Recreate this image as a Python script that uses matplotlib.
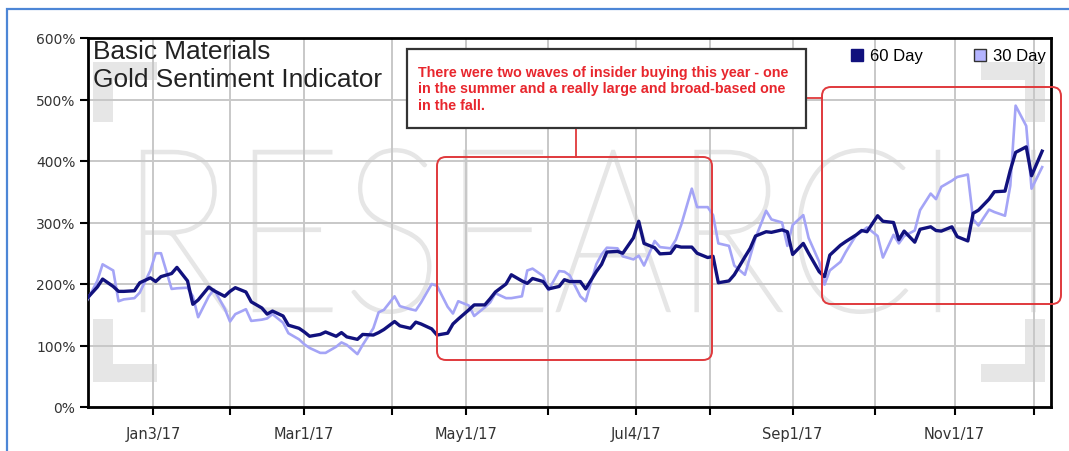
import matplotlib.pyplot as plt
import matplotlib.dates as mdates
import pandas as pd
from matplotlib.font_manager import FontProperties
from matplotlib.lines import Line2D
from matplotlib.patches import FancyBboxPatch, PathPatch, Rectangle
from matplotlib.textpath import TextPath
from matplotlib.ticker import FuncFormatter
from matplotlib.transforms import Affine2D

# Sentiment readings (%), one every second trading day from 9 Dec 2016
day60 = [176, 195, 208, 196, 188, 188, 189, 202, 210, 204,
         212, 217, 227, 205, 167, 174, 195, 189, 180, 188,
         194, 187, 171, 161, 151, 156, 148, 133, 128, 122,
         115, 118, 122, 115, 121, 114, 110, 118, 117, 121,
         126, 139, 132, 128, 138, 135, 127, 117, 120, 135,
         143, 158, 166, 166, 176, 187, 200, 215, 205, 201,
         209, 204, 192, 196, 207, 204, 204, 192, 220, 232,
         252, 253, 250, 275, 302, 266, 259, 249, 250, 262,
         260, 260, 250, 243, 245, 202, 205, 215, 244, 258,
         278, 285, 284, 288, 285, 248, 266, 250, 220, 212,
         247, 263, 269, 280, 287, 285, 311, 302, 300, 272,
         286, 268, 289, 293, 287, 286, 293, 277, 270, 315,
         320, 338, 350, 351, 385, 414, 423, 376, 416]

day30 = [172, 205, 232, 222, 172, 175, 177, 186, 222, 250,
         250, 192, 193, 194, 180, 146, 180, 191, 160, 139,
         151, 159, 140, 142, 144, 151, 137, 120, 110, 102,
         96, 88, 88, 98, 105, 101, 86, 101, 128, 154,
         158, 180, 164, 159, 157, 170, 200, 197, 163, 152,
         172, 165, 148, 162, 170, 185, 177, 177, 180, 222,
         225, 213, 190, 221, 220, 214, 180, 172, 232, 248,
         259, 258, 245, 240, 246, 230, 270, 260, 258, 272,
         296, 355, 325, 325, 312, 266, 262, 230, 215, 245,
         275, 319, 305, 300, 262, 296, 312, 275, 236, 199,
         222, 236, 252, 280, 285, 292, 278, 243, 280, 266,
         278, 287, 320, 347, 338, 358, 368, 374, 378, 305,
         295, 321, 317, 311, 360, 490, 457, 355, 390]

major_dates = ['2017-01-03', '2017-03-01', '2017-05-01',
               '2017-07-04', '2017-09-01', '2017-11-01']
major_labels = ['Jan3/17', 'Mar1/17', 'May1/17', 'Jul4/17', 'Sep1/17', 'Nov1/17']
minor_dates = ['2017-02-01', '2017-04-03', '2017-06-01',
               '2017-08-01', '2017-10-02', '2017-12-01']

title = "Basic Materials\nGold Sentiment Indicator"
note = ("There were two waves of insider buying this year - one\n"
        "in the summer and a really large and broad-based one\n"
        "in the fall.")

dates = pd.bdate_range('2016-12-09', periods=len(day60), freq='2B')

NAVY = '#11117d'
LILAC = '#a4a4f6'
RED = '#e0393c'

W, H = 1069, 452
fig = plt.figure(figsize=(W / 100, H / 100), dpi=100)
fig.patch.set_facecolor('white')
ax = fig.add_axes([88 / W, 1 - 408 / H, (1051 - 88) / W, (408 - 39) / H])
# pixel coordinates on the figure, origin bottom-left
px = Affine2D().scale(1 / W, 1 / H) + fig.transFigure

# light watermark behind the data
fp = FontProperties(family='Lato', weight='light')
wm = TextPath((0, 0), 'RESEARCH', size=1, prop=fp)
bb = wm.get_extents()
x0, x1, y0, y1 = 0.056, 0.983, 0.255, 0.699
wm_tr = (Affine2D().translate(-bb.x0, -bb.y0)
         .scale((x1 - x0) / bb.width, (y1 - y0) / bb.height)
         .translate(x0, y0) + ax.transAxes)
ax.add_patch(PathPatch(wm, transform=wm_tr, fc='#e6e6e6', ec='#e6e6e6',
                       lw=1.6, zorder=0.3))

# corner brackets
for (bx, by, bw, bh) in [(0.005, 0.068, 0.021, 0.170), (0.005, 0.068, 0.067, 0.049),
                         (0.973, 0.068, 0.021, 0.170), (0.927, 0.068, 0.067, 0.049),
                         (0.005, 0.772, 0.021, 0.163), (0.005, 0.886, 0.067, 0.049),
                         (0.973, 0.772, 0.021, 0.163), (0.927, 0.886, 0.067, 0.049)]:
    ax.add_patch(Rectangle((bx, by), bw, bh, transform=ax.transAxes,
                           fc='#e6e6e6', ec='none', zorder=0.3))

ax.plot(dates, day30, color=LILAC, lw=1.9, zorder=3)
ax.plot(dates, day60, color=NAVY, lw=2.4, zorder=4)

ax.set_ylim(0, 600)
ax.set_yticks(range(0, 601, 100))
ax.yaxis.set_major_formatter(FuncFormatter(lambda v, _: f'{v:.0f}%'))
ax.set_xlim(pd.Timestamp('2016-12-09 12:00'), pd.Timestamp('2017-12-07 08:00'))
ax.set_xticks(mdates.date2num(pd.to_datetime(major_dates)))
ax.set_xticklabels(major_labels)
ax.set_xticks(mdates.date2num(pd.to_datetime(minor_dates)), minor=True)

ax.set_axisbelow(True)
ax.grid(which='both', axis='x', color='#c8c8c8', lw=1.4)
ax.grid(which='major', axis='y', color='#c8c8c8', lw=1.4)
for s in ax.spines.values():
    s.set_color('black')
    s.set_linewidth(2)
ax.tick_params(axis='both', which='both', direction='out', length=6, width=1.5,
               color='black', labelcolor='#333333')
ax.tick_params(axis='y', labelsize=10, pad=3)
ax.tick_params(axis='x', labelsize=10.5, pad=8)

ax.text(0.005, 0.997, title, transform=ax.transAxes, ha='left', va='top',
        fontsize=18.9, family='Liberation Sans', color='#222222', zorder=6)

handles = [Line2D([], [], ls='none', marker='s', markersize=9, mfc=NAVY, mec=NAVY),
           Line2D([], [], ls='none', marker='s', markersize=9, mfc='#b4b4ff', mec='#333333')]
ax.legend(handles, ['60 Day', '30 Day'], loc='center', ncol=2, frameon=False,
          bbox_to_anchor=(948 / W, 1 - 57 / H), bbox_transform=fig.transFigure,
          prop=FontProperties(family='Liberation Sans', size=12),
          handlelength=0.8, handletextpad=0.4, columnspacing=3.0)

# callout box and the two highlighted periods
fig.add_artist(Rectangle((407, H - 129), 399, 79, transform=px,
                         fc='white', ec='#333333', lw=1.6, zorder=5))
fig.text(418 / W, 1 - 66 / H, note, ha='left', va='top', fontsize=10.3,
         fontweight='bold', color='#e8262d', family='Liberation Sans',
         linespacing=1.22, zorder=6)
fig.add_artist(Line2D([576, 576], [H - 129, H - 158], transform=px, color=RED, lw=1.3))
fig.add_artist(Line2D([806, 822], [H - 99, H - 99], transform=px, color=RED, lw=1.3))
fig.add_artist(FancyBboxPatch((437, H - 361), 275, 203, transform=px,
                              boxstyle='round,pad=0,rounding_size=9',
                              fc='none', ec=RED, lw=1.4, zorder=5))
fig.add_artist(FancyBboxPatch((822, H - 305), 239, 217, transform=px,
                              boxstyle='round,pad=0,rounding_size=9',
                              fc='none', ec=RED, lw=1.4, zorder=5))

# thin blue frame around the panel
fig.add_artist(Rectangle((7, -20), 1100, H - 10 + 20, transform=px,
                         fc='none', ec='#4d86d6', lw=1.6, zorder=6))

fig.savefig('out.png', dpi=100)
